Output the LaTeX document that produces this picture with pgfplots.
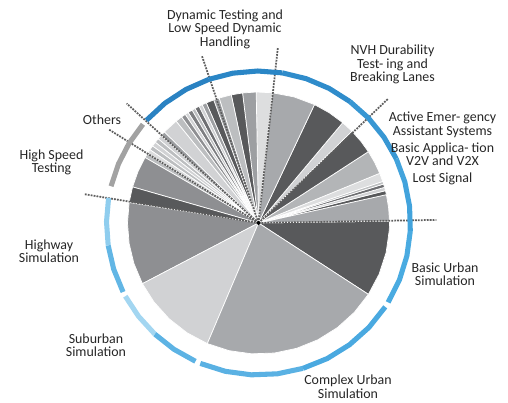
\documentclass[border=0pt]{standalone}
\usepackage{pgfplots}
\pgfplotsset{compat=1.18}
\usepgfplotslibrary{polar}
\usepackage{fontspec}
\setmainfont{Carlito}
\definecolor{dk}{HTML}{58595B}
\definecolor{dkb}{HTML}{6D6E71}
\definecolor{dkc}{HTML}{7D7E81}
\definecolor{md}{HTML}{A7A9AC}
\definecolor{mdb}{HTML}{8E8F92}
\definecolor{mdc}{HTML}{9D9FA2}
\definecolor{lt}{HTML}{D1D2D4}
\definecolor{ltb}{HTML}{BCBEC0}
\definecolor{wt}{HTML}{DDDEDF}
\definecolor{mlt}{HTML}{B3B5B7}
\definecolor{dashc}{HTML}{5E5E5E}
\definecolor{txt}{HTML}{262626}
\definecolor{rb1}{HTML}{4AABE1}
\definecolor{rb2}{HTML}{42A3DC}
\definecolor{rb3}{HTML}{3897D3}
\definecolor{rb4}{HTML}{2F8CCB}
\definecolor{rb5}{HTML}{2A86C6}
\definecolor{rb6}{HTML}{2A82C2}
\definecolor{rgy}{HTML}{A2A2A2}
\definecolor{rl1}{HTML}{8FCDEE}
\definecolor{rl2}{HTML}{62B6E5}
\definecolor{rl3}{HTML}{A3D6F1}
\definecolor{rl4}{HTML}{5DB3E4}
\definecolor{rl5}{HTML}{5AB1E3}
\definecolor{rl6}{HTML}{4AA9E0}
\newcommand{\lblfont}{\fontsize{9.9}{9.6}\selectfont}
\tikzset{lbl/.style={font=\lblfont, align=center, text=txt, inner sep=0pt}}
\pgfplotsset{
 sl/.style={fill=#1, draw=white, line width=0.5pt, line join=round, data cs=polar, mark=none},
 rg/.style={draw=#1, line width=3.6pt, line join=round, data cs=polar, mark=none},
 dl/.style={draw=dashc, line width=1.25pt, dash pattern=on 1.3pt off 0.8pt, data cs=polar, mark=none},
}
\begin{document}
\begin{tikzpicture}
\begin{axis}[
  width=12.7cm, height=10.075cm, scale only axis,
  xmin=-258.5, xmax=249.5, ymin=-180, ymax=223,
  hide axis, clip=false,
]
\addplot[draw=none, mark=none] coordinates {(-258.5,-180) (249.5,223)};
% slices: (angle, radius) in polar data
\addplot[sl=dk]  coordinates {(0,0) (-33,131) (-23,131) (-13,131) (-3,131) (0.8,131)} -- cycle;
\addplot[sl=md]  coordinates {(0,0) (0.8,131) (6.6,131) (12.5,131)} -- cycle;
\addplot[sl=dk]  coordinates {(0,0) (12.5,131) (14.3,131)} -- cycle;
\addplot[sl=lt]  coordinates {(0,0) (14.3,131) (15.8,131)} -- cycle;
\addplot[sl=dkb] coordinates {(0,0) (15.8,131) (17.3,131)} -- cycle;
\addplot[sl=ltb] coordinates {(0,0) (17.3,131) (18.5,131)} -- cycle;
\addplot[sl=wt]  coordinates {(0,0) (18.5,131) (22.3,131)} -- cycle;
\addplot[sl=mlt] coordinates {(0,0) (22.3,131) (27.6,131) (33,131)} -- cycle;
\addplot[sl=dk]  coordinates {(0,0) (33,131) (38.7,131) (44.5,131)} -- cycle;
\addplot[sl=lt]  coordinates {(0,0) (44.5,131) (50,131)} -- cycle;
\addplot[sl=dk]  coordinates {(0,0) (50,131) (57.3,131) (64.7,131)} -- cycle;
\addplot[sl=md]  coordinates {(0,0) (64.7,131) (74.3,131) (84,131)} -- cycle;
\addplot[sl=wt]  coordinates {(0,0) (84,131) (91,131)} -- cycle;
\addplot[sl=mdc] coordinates {(0,0) (91,131) (97,131)} -- cycle;
\addplot[sl=dk]  coordinates {(0,0) (97,131) (102,131)} -- cycle;
\addplot[sl=ltb] coordinates {(0,0) (102,131) (107.5,131)} -- cycle;
\addplot[sl=mdc] coordinates {(0,0) (107.5,131) (110,131)} -- cycle;
\addplot[sl=dk]  coordinates {(0,0) (110,131) (113.5,131)} -- cycle;
\addplot[sl=mdc] coordinates {(0,0) (113.5,131) (115.5,131)} -- cycle;
\addplot[sl=lt]  coordinates {(0,0) (115.5,131) (117,131)} -- cycle;
\addplot[sl=dkb] coordinates {(0,0) (117,131) (119,131)} -- cycle;
\addplot[sl=ltb] coordinates {(0,0) (119,131) (120.5,131)} -- cycle;
\addplot[sl=dkc] coordinates {(0,0) (120.5,131) (122.5,131)} -- cycle;
\addplot[sl=lt]  coordinates {(0,0) (122.5,131) (124,131)} -- cycle;
\addplot[sl=mdb] coordinates {(0,0) (124,131) (126,131)} -- cycle;
\addplot[sl=ltb] coordinates {(0,0) (126,131) (129,131)} -- cycle;
\addplot[sl=lt]  coordinates {(0,0) (129,131) (136,131)} -- cycle;
\addplot[sl=mdc] coordinates {(0,0) (136,131) (138,131)} -- cycle;
\addplot[sl=lt]  coordinates {(0,0) (138,131) (140,131)} -- cycle;
\addplot[sl=ltb] coordinates {(0,0) (140,131) (142,131)} -- cycle;
\addplot[sl=lt]  coordinates {(0,0) (142,131) (144,131)} -- cycle;
\addplot[sl=ltb] coordinates {(0,0) (144,131) (146,131)} -- cycle;
\addplot[sl=wt]  coordinates {(0,0) (146,131) (148,131)} -- cycle;
\addplot[sl=ltb] coordinates {(0,0) (148,131) (150,131)} -- cycle;
\addplot[sl=mdb] coordinates {(0,0) (150,131) (157,131) (164,131)} -- cycle;
\addplot[sl=dk]  coordinates {(0,0) (164,131) (171,131)} -- cycle;
\addplot[sl=mdb] coordinates {(0,0) (171,131) (180,131) (189,131) (198,131) (207.6,131)} -- cycle;
\addplot[sl=lt]  coordinates {(0,0) (207.6,131) (217,131) (227,131) (237,131) (247,131)} -- cycle;
\addplot[sl=md]  coordinates {(0,0) (247,131) (257,131) (267,131) (277,131) (287,131) (297,131) (307,131) (317,131) (327,131)} -- cycle;
% dashed leader lines
\addplot[dl] coordinates {(0,0) (1,178)};
\addplot[dl] coordinates {(0,0) (43.8,180)};
\addplot[dl] coordinates {(0,0) (83.7,176)};
\addplot[dl] coordinates {(0,0) (108.7,177)};
\addplot[dl] coordinates {(0,0) (137.8,178)};
\addplot[dl] coordinates {(0,0) (148,177)};
\addplot[dl] coordinates {(0,0) (170.6,177)};
\addplot[only marks, mark=*, mark size=1.3pt, black, data cs=polar] coordinates {(0,0)};
% outer ring
\addplot[rg=rb1] coordinates {(-31.5,152) (-22,152) (-12.5,152) (-3,152)};
\addplot[rg=rb2] coordinates {(-3,152) (6.3,152) (15.7,152) (25,152)};
\addplot[rg=rb3] coordinates {(25,152) (34.3,152) (43.7,152) (53,152)};
\addplot[rg=rb4] coordinates {(53,152) (62.3,152) (71.7,152) (81,152)};
\addplot[rg=rb5] coordinates {(81,152) (90.3,152) (99.7,152) (109,152)};
\addplot[rg=rb6] coordinates {(109,152) (118.5,152) (128,152) (137.5,152)};
\addplot[rg=rgy] coordinates {(139.5,152) (148.3,152) (157.2,152) (166,152)};
\addplot[rg=rl1] coordinates {(170.5,152) (179.5,152) (188.5,152)};
\addplot[rg=rl2] coordinates {(188.5,152) (197.7,152) (207,152)};
\addplot[rg=rl3] coordinates {(208.8,152) (217.9,152) (227,152)};
\addplot[rg=rl4] coordinates {(227,152) (236.2,152) (245.5,152)};
\addplot[rg=rl5] coordinates {(247.5,152) (257.4,152) (267.3,152) (277.1,152) (287,152)};
\addplot[rg=rl6] coordinates {(287,152) (296.9,152) (306.8,152) (316.6,152) (326.5,152)};
% labels
\node[lbl] at (axis cs:-33.5,194) {Dynamic Testing and\\Low Speed Dynamic\\Handling};
\node[lbl] at (axis cs:134,158.5) {NVH Durability\\Test- ing and\\Breaking Lanes};
\node[lbl] at (axis cs:184,98) {Active Emer- gency\\Assistant Systems};
\node[lbl] at (axis cs:184,69) {Basic Applica- tion\\V2V and V2X};
\node[lbl] at (axis cs:184,43.7) {Lost Signal};
\node[lbl] at (axis cs:186.5,-51) {Basic Urban\\Simulation};
\node[lbl] at (axis cs:89.5,-163.7) {Complex Urban\\Simulation};
\node[lbl] at (axis cs:-162.5,-122) {Suburban\\Simulation};
\node[lbl] at (axis cs:-209.5,-28) {Highway\\Simulation};
\node[lbl] at (axis cs:-207,60.5) {High Speed\\Testing};
\node[lbl] at (axis cs:-156.5,103) {Others};
\end{axis}
\end{tikzpicture}
\end{document}
